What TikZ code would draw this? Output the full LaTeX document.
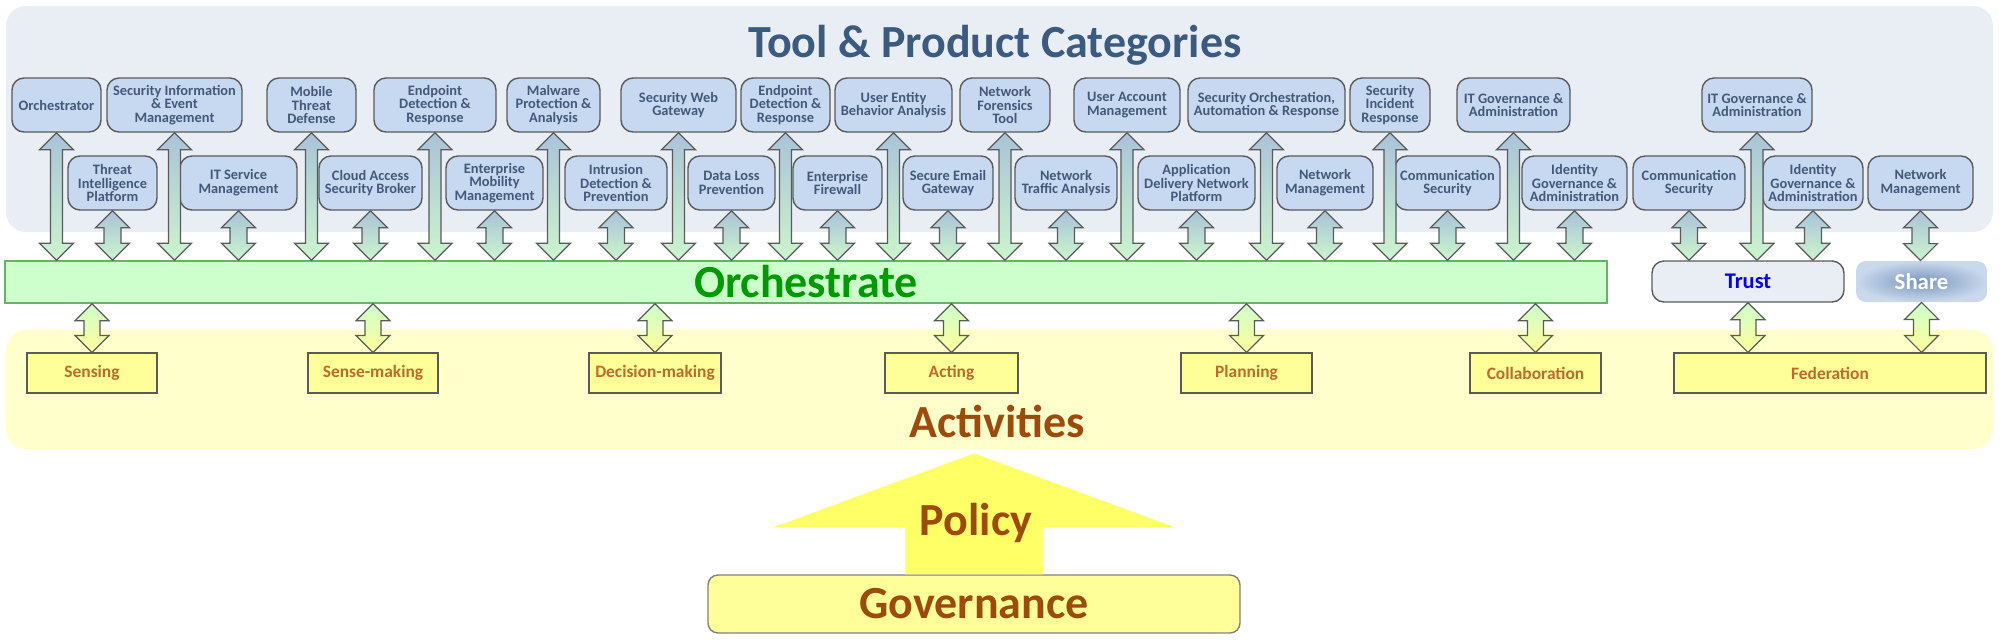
\documentclass[tikz,border=0pt]{standalone}
\usepackage{fontspec}
\setmainfont{Carlito}
\usepackage{tikz}
\usetikzlibrary{calc,positioning}
\definecolor{panelblue}{HTML}{E9EDF4}
\definecolor{panelyellow}{HTML}{FFFFCC}
\definecolor{titleblue}{HTML}{3A5A80}
\definecolor{toolfill}{HTML}{C6D9F1}
\definecolor{tooltext}{HTML}{44597A}
\definecolor{edgegray}{HTML}{5A5A5A}
\definecolor{orchfill}{HTML}{CCFFCC}
\definecolor{orchedge}{HTML}{66B266}
\definecolor{orchtext}{HTML}{009A00}
\definecolor{arrblue}{HTML}{A9C3D9}
\definecolor{arrgreen}{HTML}{CCF5CC}
\definecolor{arryellow}{HTML}{FFFF99}
\definecolor{actfill}{HTML}{FFFF99}
\definecolor{acttext}{HTML}{C0692A}
\definecolor{govbrown}{HTML}{9E4A0C}
\definecolor{policyfill}{HTML}{FFFF66}
\definecolor{sharein}{HTML}{7A95C0}
\definecolor{shareout}{HTML}{C9D8EB}

\tikzset{
  panel/.style={rounded corners=10pt, inner sep=0pt},
  tool/.style={draw=edgegray, line width=0.7pt, fill=toolfill, rounded corners=6pt,
    inner sep=0pt, align=center, text=tooltext, minimum height=27pt,
    font=\fontsize{7.2}{6.9}\selectfont\bfseries},
  activity/.style={draw=edgegray, line width=0.6pt, fill=actfill, inner sep=0pt,
    minimum height=20pt, text=acttext, font=\fontsize{8.7}{10}\selectfont\bfseries},
  bigtext/.style={font=\fontsize{23}{27}\selectfont\bfseries, inner sep=0pt},
  upflow/.style={top color=arrblue, bottom color=arrgreen, draw=edgegray, line width=0.6pt},
  lowflow/.style={top color=orchfill, bottom color=arryellow, draw=edgegray, line width=0.6pt}
}

% double block arrow: [shading]{shaft half width}{top tip}{bottom tip}
\newcommand{\blockarrow}[4]{%
  \shade[#1] let \p1=#3, \p2=#4 in
    (\x1,\y1) -- ({\x1+8.5pt},{\y1-8.5pt}) -- ({\x1+#2},{\y1-8.5pt})
    -- ({\x1+#2},{\y2+8.5pt}) -- ({\x1+8.5pt},{\y2+8.5pt}) -- (\x1,\y2)
    -- ({\x1-8.5pt},{\y2+8.5pt}) -- ({\x1-#2},{\y2+8.5pt})
    -- ({\x1-#2},{\y1-8.5pt}) -- ({\x1-8.5pt},{\y1-8.5pt}) -- cycle;}

\begin{document}
\begin{tikzpicture}[x=0.5pt, y=-0.5pt]
\useasboundingbox (0,0) rectangle (1999,639);

% panels
\node[panel, fill=panelblue, minimum width=993.5pt, minimum height=113pt] (toppanel) at (999.5,119) {};
\node[panel, fill=panelyellow, minimum width=993.5pt, minimum height=59.5pt] (actpanel) at (999.5,389.5) {};
\node[bigtext, text=titleblue, anchor=base] (title) at (995,57) {Tool \& Product Categories};
\node[bigtext, text=govbrown, anchor=base] (actlbl) at (997,437) {Activities};

% tool boxes, upper row
\foreach \nm/\cx/\w/\txt in {
  orch/56.5/89/{Orchestrator},
  siem/174.5/135/{Security Information\\\& Event\\Management},
  mtd/311.5/89/{Mobile\\Threat\\Defense},
  edrA/435/122/{Endpoint\\Detection \&\\Response},
  mpa/553.5/93/{Malware\\Protection \&\\Analysis},
  swg/678.5/115/{Security Web\\Gateway},
  edrB/785.5/89/{Endpoint\\Detection \&\\Response},
  ueba/893.5/117/{User Entity\\Behavior Analysis},
  nft/1005/90/{Network\\Forensics\\Tool},
  uam/1127/106/{User Account\\Management},
  soar/1266.5/157/{Security Orchestration,\\Automation \& Response},
  sir/1390/80/{Security\\Incident\\Response},
  itgaA/1513.5/113/{IT Governance \&\\Administration},
  itgaB/1757/110/{IT Governance \&\\Administration}}
  \node[tool, minimum width=\w*0.5pt] (\nm) at (\cx,105) {\txt};

% tool boxes, lower row
\foreach \nm/\cx/\w/\txt in {
  tip/112.5/89/{Threat\\Intelligence\\Platform},
  itsm/238.5/117/{IT Service\\Management},
  casb/370.5/103/{Cloud Access\\Security Broker},
  emm/494.5/97/{Enterprise\\Mobility\\Management},
  idp/616/102/{Intrusion\\Detection \&\\Prevention},
  dlp/731.5/87/{Data Loss\\Prevention},
  efw/837.5/89/{Enterprise\\Firewall},
  seg/948/90/{Secure Email\\Gateway},
  nta/1066/102/{Network\\Traffic Analysis},
  adn/1196.5/117/{Application\\Delivery Network\\Platform},
  nmA/1325/96/{Network\\Management},
  csA/1447.5/105/{Communication\\Security},
  igaA/1574.5/105/{Identity\\Governance \&\\Administration},
  csB/1689/112/{Communication\\Security},
  igaB/1813/100/{Identity\\Governance \&\\Administration},
  nmB/1920.5/105/{Network\\Management}}
  \node[tool, minimum width=\w*0.5pt] (\nm) at (\cx,183) {\txt};

% middle layer
\node[draw=orchedge, line width=0.7pt, fill=orchfill, minimum width=801pt, minimum height=21pt,
  inner sep=0pt, bigtext, text=orchtext] (bar) at (806,282) {Orchestrate};
\node[draw=edgegray, line width=0.7pt, fill=panelblue, rounded corners=6pt, minimum width=96pt,
  minimum height=20.5pt, inner sep=0pt, text=blue, font=\fontsize{11.2}{13}\selectfont\bfseries]
  (trust) at (1748,281.5) {Trust};
\node[inner color=sharein, outer color=shareout, rounded corners=5pt, minimum width=65.5pt,
  minimum height=20.5pt, inner sep=0pt, text=white, font=\fontsize{11.4}{13}\selectfont\bfseries]
  (share) at (1921.5,281.5) {Share};

% activities
\node[activity, minimum width=65pt] (sensing) at (92,373) {Sensing};
\node[activity, minimum width=65pt] (sensemaking) at (373,373) {Sense-making};
\node[activity, minimum width=66pt] (decision) at (655,373) {Decision-making};
\node[activity, minimum width=66.5pt] (acting) at (951.5,373) {Acting};
\node[activity, minimum width=65.5pt] (planning) at (1246.5,373) {Planning};
\node[activity, minimum width=65.5pt] (collab) at (1535.5,373) {Collaboration};
\node[activity, minimum width=156pt] (fed) at (1830,373) {Federation};

% governance and policy
\node[draw=gray, line width=0.7pt, fill=actfill, rounded corners=5pt, minimum width=266pt,
  minimum height=29pt, inner sep=0pt, bigtext, text=govbrown] (gov) at (974,604) {Governance};
\fill[policyfill] let \p1=($(gov.north |- actpanel.south)+(0,-2pt)$), \p2=(gov.north) in
  (\x1,\y1) -- ({\x1+100.5pt},{\y1-37pt}) -- ({\x1+34.5pt},{\y1-37pt}) -- ({\x1+34.5pt},\y2)
  -- ({\x1-34.5pt},\y2) -- ({\x1-34.5pt},{\y1-37pt}) -- ({\x1-100.5pt},{\y1-37pt}) -- cycle;
\node[bigtext, text=govbrown, anchor=base] (policy) at (976,535) {Policy};

% connectors
\foreach \nm/\dst in {orch/bar, siem/bar, mtd/bar, edrA/bar, mpa/bar, swg/bar, edrB/bar,
  ueba/bar, nft/bar, uam/bar, soar/bar, sir/bar, itgaA/bar, itgaB/trust}
  {\blockarrow{upflow}{3pt}{(\nm.south)}{(\nm.south |- \dst.north)}}
\foreach \nm/\dst in {tip/bar, itsm/bar, casb/bar, emm/bar, idp/bar, dlp/bar, efw/bar, seg/bar,
  nta/bar, adn/bar, nmA/bar, csA/bar, igaA/bar, csB/trust, igaB/trust, nmB/share}
  {\blockarrow{upflow}{4.25pt}{(\nm.south)}{(\nm.south |- \dst.north)}}
\foreach \nm in {sensing, sensemaking, decision, acting, planning, collab}
  {\blockarrow{lowflow}{4pt}{(\nm.north |- bar.south)}{(\nm.north)}}
\foreach \src in {trust, share}
  {\blockarrow{lowflow}{4pt}{(\src.south)}{(\src.south |- fed.north)}}
\end{tikzpicture}
\end{document}
